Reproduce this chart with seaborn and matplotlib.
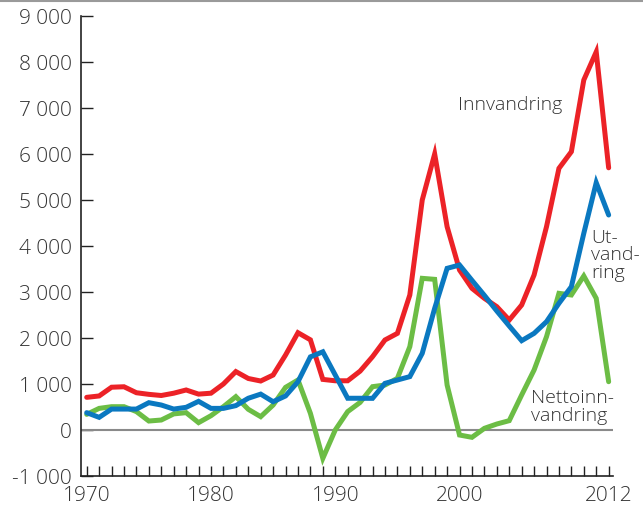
import matplotlib
matplotlib.use("Agg")
import matplotlib.pyplot as plt
from matplotlib.lines import Line2D
import seaborn as sns

# årlige tall 1970-2012
years = list(range(1970, 2013))
innvandring = [710, 740, 930, 940, 810, 775, 750, 800, 870, 780, 800, 1000,
               1270, 1120, 1065, 1195, 1630, 2115, 1960, 1100, 1070, 1070,
               1280, 1594, 1957, 2101, 2935, 5000, 6000, 4420, 3478, 3080,
               2862, 2681, 2391, 2717, 3370, 4420, 5688, 6050, 7609, 8220, 5700]
utvandring = [377, 275, 455, 455, 455, 594, 543, 455, 493, 623, 470, 470,
              530, 690, 780, 615, 740, 1050, 1590, 1700, 1195, 690,
              690, 688, 1014, 1087, 1160, 1667, 2645, 3514, 3587, 3254,
              2927, 2587, 2261, 1942, 2101, 2355, 2754, 3116, 4275, 5377, 4674]
nettoinnvandring = [340, 470, 507, 507, 400, 195, 217, 350, 377, 160, 311, 507,
                    725, 450, 290, 543, 927, 1087, 362, -616, 0, 400,
                    600, 942, 978, 1123, 1812, 3297, 3275, 978, -109, -159,
                    36, 130, 203, 761, 1304, 2029, 2971, 2935, 3348, 2862, 1050]

yticks = list(range(-1000, 9001, 1000))
xlabels = {1970: "1970", 1980: "1980", 1990: "1990", 2000: "2000", 2012: "2012"}

RED = "#ec2227"
BLUE = "#0a78c0"
GREEN = "#6cbd45"
TXT = "#333333"

sns.set_style("white")
plt.rcParams["font.family"] = ["Open Sans", "DejaVu Sans"]
plt.rcParams["font.weight"] = "light"

fig = plt.figure(figsize=(6.43, 5.15), dpi=100)
ax = fig.add_axes([81 / 643, 1 - 476 / 515, 532 / 643, 460 / 515])

# nullinje
ax.axhline(0, color="#8a8a8a", linewidth=1.5, zorder=1)

lw = 3.6
sns.lineplot(x=years, y=nettoinnvandring, color=GREEN, linewidth=lw, ax=ax, zorder=2)
sns.lineplot(x=years, y=innvandring, color=RED, linewidth=lw, ax=ax, zorder=3)
sns.lineplot(x=years, y=utvandring, color=BLUE, linewidth=lw, ax=ax, zorder=4)
for ln in ax.get_lines()[1:]:
    ln.set_solid_joinstyle("miter")

ax.set_xlim(1969.54, 2012.35)
ax.set_ylim(-1000, 9000)

ax.set_yticks(yticks)
ax.set_yticklabels([f"{v:,}".replace(",", " ") for v in yticks])
ax.set_xticks(years)
ax.set_xticklabels([xlabels.get(y, "") for y in years])

ax.tick_params(axis="y", direction="in", length=8.5, width=1.0, color="#222222",
               labelsize=15, labelcolor=TXT, pad=6.5, left=True)
ax.tick_params(axis="x", direction="in", length=7, width=1.0, color="#222222",
               labelsize=15, labelcolor=TXT, pad=7, bottom=True)

for side in ["top", "right"]:
    ax.spines[side].set_visible(False)
for side in ["left", "bottom"]:
    ax.spines[side].set_color("#222222")
    ax.spines[side].set_linewidth(1.2)

ax.set_xlabel("")
ax.set_ylabel("")

ax.text(1999.9, 7060, "Innvandring", fontsize=14, color=TXT, ha="left", va="center")
ax.text(2010.6, 3800, "Ut-\nvand-\nring", fontsize=14, color=TXT, ha="left",
        va="center", linespacing=0.95)
ax.text(2005.75, 500, "Nettoinn-\nvandring", fontsize=14, color=TXT, ha="left",
        va="center", linespacing=0.95)

# grå kantlinje øverst
fig.add_artist(Line2D([0, 1], [0.998, 0.998], transform=fig.transFigure,
                      color="#9a9a9a", linewidth=1.5))

fig.savefig("out.png", dpi=100)
